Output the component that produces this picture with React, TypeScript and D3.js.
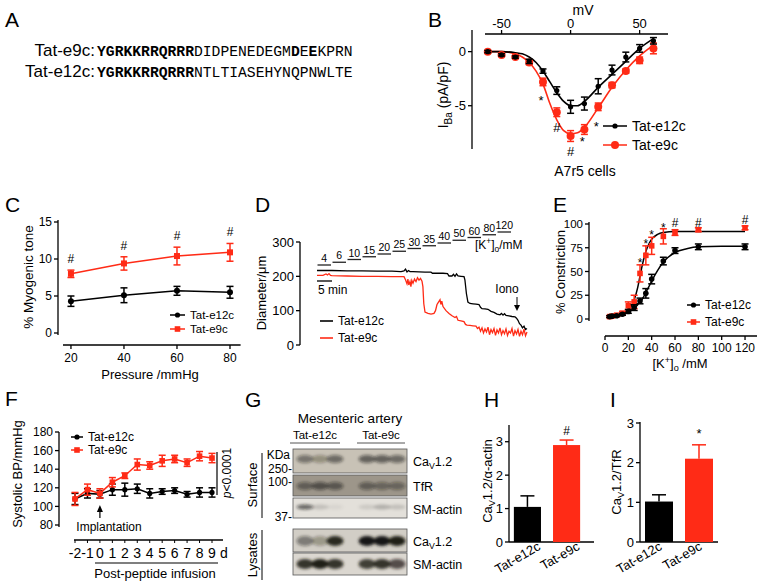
import React from 'react';
import * as d3 from 'd3';

const RED = '#ff2b16';
const BLK = '#000';
const FONT = '"Liberation Sans", Arial, Helvetica, sans-serif';

// ---------- Panel A ----------
const SEQ_NAMES = ['Tat-e9c:', 'Tat-e12c:'];
const SEQ_E9: [string, boolean][] = [['YGRKKRRQRRR', true], ['DIDPENEDEGM', false], ['D', true], ['E', false], ['E', true], ['KPRN', false]];
const SEQ_E12: [string, boolean][] = [['YGRKKRRQRRR', true], ['NTLTIASEHYNQPNWLTE', false]];

// ---------- Panel B ----------
const B_V = [-60, -50, -40, -30, -20, -10, 0, 10, 20, 30, 40, 50, 60];
const B_E12 = [0, -0.3, -0.5, -0.9, -1.8, -3.6, -5.1, -4.8, -3.2, -1.7, -0.5, 0.3, 1.0];
const B_E12_ERR = [0.1, 0.1, 0.1, 0.2, 0.2, 0.35, 0.6, 0.6, 0.7, 0.45, 0.45, 0.35, 0.3];
const B_E9 = [0, -0.3, -0.5, -1.0, -2.8, -5.6, -7.8, -7.2, -5.1, -3.1, -1.8, -0.8, 0.3];
const B_E9_ERR = [0.1, 0.1, 0.1, 0.2, 0.35, 0.4, 0.5, 0.45, 0.35, 0.25, 0.2, 0.3, 0.5];
const B_FIT_V = [-62, -50, -40, -35, -30, -25, -20, -15, -10, -5, 0, 5, 10, 20, 30, 40, 50, 60];
const B_FIT_E12 = [0, 0, -0.1, -0.2, -0.5, -1.0, -1.8, -2.8, -3.8, -4.6, -5.0, -5.0, -4.6, -3.3, -2.1, -0.9, 0.3, 1.2];
const B_FIT_E9 = [0, 0, -0.2, -0.5, -1.0, -1.8, -3.0, -4.8, -6.3, -7.3, -7.6, -7.5, -7.0, -5.2, -3.3, -1.7, -0.4, 0.6];
const B_XTICKS = [-50, 0, 50];
const B_YTICKS = [0, -5];
const B_MARKS: [number, number, string][] = [[-20, -4.0, '*'], [-10, -7.0, '#'], [0, -9.2, '#'], [10, -7.8, '*'], [20, -6.4, '*']];

// ---------- Panel C ----------
const C_P = [20, 40, 60, 80];
const C_E12 = [4.3, 5.1, 5.7, 5.5];
const C_E12_ERR = [0.7, 1.0, 0.6, 0.8];
const C_E9 = [8.0, 9.4, 10.4, 10.9];
const C_E9_ERR = [0.5, 0.9, 1.2, 1.2];
const C_XTICKS = [20, 40, 60, 80];
const C_YTICKS = [0, 5, 10, 15];

// ---------- Panel D ----------
const D_CONC = ['4', '6', '10', '15', '20', '25', '30', '35', '40', '50', '60', '80', '120'];
const D_YTICKS = [0, 100, 200, 300];
const D_E12: [number, number][] = [
  [0, 217], [5, 217], [10, 216], [15, 216], [20, 215], [25, 215], [28, 214], [29, 216], [29.5, 221], [30, 213], [30.5, 217], [31, 214],
  [32, 214], [34, 213], [36, 212], [38, 212], [38.5, 209], [40, 209], [42, 209], [43.5, 208], [44, 201], [45, 201], [45.5, 206], [46, 200],
  [46.5, 207], [47, 201], [48, 200], [49, 199], [49.3, 190], [49.8, 150], [50.3, 125], [51, 121], [52, 120], [53, 119], [54, 118],
  [54.5, 110], [55, 106], [56, 105], [57, 104], [58, 98], [59, 95], [60, 90], [61, 88], [61.5, 92], [62, 87], [62.5, 91], [63, 86],
  [64, 85], [65, 83], [66, 82], [66.5, 78], [67, 72], [67.5, 62], [68, 58], [68.5, 50], [69, 55], [69.5, 45], [70, 48]];
const D_E9: [number, number][] = [
  [0, 203], [2, 203], [3, 207], [3.5, 204], [4, 208], [4.5, 203], [5, 202], [10, 201], [15, 200], [20, 200], [25, 199], [29, 199],
  [29.5, 190], [30, 178], [30.3, 192], [30.6, 175], [31, 185], [31.3, 170], [31.6, 188], [32, 180], [32.5, 192], [33, 185], [33.5, 196],
  [34, 189], [34.5, 194], [35, 186], [35.3, 170], [35.6, 120], [36, 96], [37, 92], [38, 90], [39, 92], [39.5, 100], [40, 118], [40.5, 125],
  [41, 132], [41.3, 118], [41.6, 128], [42, 112], [43, 100], [44, 92], [45, 85], [46, 80], [46.5, 83], [47, 72], [48, 70], [49, 68],
  [49.5, 60], [50, 58], [51, 57], [52, 56], [53, 55], [53.5, 48], [54, 52], [54.5, 40], [55, 50], [55.5, 35], [56, 47], [56.5, 38],
  [57, 52], [57.5, 30], [58, 45], [58.5, 36], [59, 48], [59.5, 28], [60, 44], [60.5, 35], [61, 50], [61.5, 30], [62, 42], [62.5, 33],
  [63, 47], [63.5, 28], [64, 40], [64.5, 35], [65, 48], [65.5, 26], [66, 42], [66.5, 32], [67, 45], [67.5, 25], [68, 40], [68.5, 30],
  [69, 46], [69.5, 27], [70, 38]];

// ---------- Panel E ----------
const E_K = [4, 6, 10, 15, 20, 25, 30, 35, 40, 50, 60, 80, 120];
const E_E12 = [2.5, 3, 3.5, 5, 8, 12, 19, 27, 42, 61, 72, 76, 76];
const E_E12_ERR = [1, 1, 1, 1, 2, 3, 3, 5, 5, 4, 3, 3, 3];
const E_E9 = [2.5, 3, 4, 6, 14, 18, 48, 67, 77, 87, 91, 94, 96];
const E_E9_ERR = [1, 1, 1, 2, 4, 7, 9, 10, 9, 8, 3, 2, 2];
const E_FIT_K = [4, 10, 15, 20, 25, 28, 30, 32, 35, 38, 40, 45, 50, 60, 70, 80, 100, 120];
const E_FIT_E12 = [2, 3, 4, 7, 11, 15, 18, 21, 28, 35, 40, 51, 60, 70, 74, 76, 76.5, 76.5];
const E_FIT_E9 = [2, 3, 5, 9, 20, 33, 45, 57, 71, 80, 84, 89, 91, 92, 92, 92, 92, 92];
const E_XTICKS = [0, 20, 40, 60, 80, 100, 120];
const E_YTICKS = [0, 25, 50, 75, 100];
const E_MARKS: [number, number, string][] = [[30, 64, '*'], [35, 84, '*'], [40, 94, '*'], [50, 101, '*'], [60, 101, '#'], [80, 101, '#'], [120, 104, '#']];

// ---------- Panel F ----------
const F_DAY = [-2, -1, 0, 1, 2, 3, 4, 5, 6, 7, 8, 9];
const F_E12 = [108, 114, 113, 118, 118, 119, 114, 116, 117, 113, 115, 115];
const F_E12_ERR = [6, 5, 4, 6, 7, 5, 5, 3, 3, 3, 5, 5];
const F_E9 = [108, 118, 114, 126, 133, 145, 144, 149, 151, 147, 154, 152];
const F_E9_ERR = [7, 6, 5, 5, 3, 6, 4, 6, 4, 4, 5, 5];
const F_YTICKS = [80, 100, 120, 140, 160, 180];

// ---------- Panel G ----------
const G_ROWS = ['CaV1.2', 'TfR', 'SM-actin', 'CaV1.2', 'SM-actin'];
const G_BANDS = [
  [0.45, 0.3, 0.5, 0.55, 0.55, 0.5],
  [0.45, 0.55, 0.5, 0.45, 0.4, 0.4],
  [0.6, 0.15, 0.05, 0.1, 0.22, 0.15],
  [0.45, 0.3, 0.9, 1.0, 1.0, 0.95],
  [0.85, 0.95, 0.85, 0.8, 0.85, 0.7],
];
const G_BG = ['#c8c2b6', '#9d968a', '#e3e0da', '#d2cec6', '#dbd7d0'];

// ---------- Panels H, I ----------
const GROUPS = ['Tat-e12c', 'Tat-e9c'];
const H_VAL = [1.05, 2.9];
const H_ERR = [0.33, 0.15];
const I_VAL = [1.02, 2.1];
const I_ERR = [0.17, 0.35];
const H_YTICKS = [0, 1, 2, 3];

type Sc = d3.ScaleLinear<number, number>;

function ErrBar({ x, y0, y1, color, w = 3.5, sw = 1.5 }: any) {
  return (
    <g stroke={color} strokeWidth={sw}>
      <line x1={x} x2={x} y1={y0} y2={y1} />
      <line x1={x - w} x2={x + w} y1={y0} y2={y0} />
      <line x1={x - w} x2={x + w} y1={y1} y2={y1} />
    </g>
  );
}

function Marker({ shape, x, y, color, s }: any) {
  return shape === 'circle' ? <circle cx={x} cy={y} r={s} fill={color} /> : <rect x={x - s} y={y - s} width={2 * s} height={2 * s} fill={color} />;
}

function YAxis({ x, y, ticks, y0, y1, fs = 12, fmt = (d: number) => String(d) }: { x: number; y: Sc; ticks: number[]; y0: number; y1: number; fs?: number; fmt?: (d: number) => string }) {
  return (
    <g>
      <line x1={x} x2={x} y1={y0} y2={y1} stroke="#000" strokeWidth={1.3} />
      {ticks.map((t) => (
        <g key={t}>
          <line x1={x - 4} x2={x} y1={y(t)} y2={y(t)} stroke="#000" strokeWidth={1.3} />
          <text x={x - 6} y={y(t)} dy="0.35em" textAnchor="end" fontSize={fs}>{fmt(t)}</text>
        </g>
      ))}
    </g>
  );
}

function XAxis({ y, x, ticks, x0, x1, fs = 12, up = false, labelY }: { y: number; x: Sc; ticks: number[]; x0: number; x1: number; fs?: number; up?: boolean; labelY: number }) {
  return (
    <g>
      <line x1={x0} x2={x1} y1={y} y2={y} stroke="#000" strokeWidth={1.3} />
      {ticks.map((t) => (
        <g key={t}>
          <line x1={x(t)} x2={x(t)} y1={y} y2={up ? y - 4 : y + 4} stroke="#000" strokeWidth={1.3} />
          <text x={x(t)} y={labelY} textAnchor="middle" fontSize={fs}>{t}</text>
        </g>
      ))}
    </g>
  );
}

function Series({ X, Y, E, x, y, color, shape, s, curve = true }: any) {
  const line = d3.line<number>().x((_, i) => x(X[i])).y((d) => y(d));
  return (
    <g>
      {curve && <path d={line(Y) || ''} fill="none" stroke={color} strokeWidth={1.5} />}
      {Y.map((v: number, i: number) => (
        <ErrBar key={'e' + i} x={x(X[i])} y0={y(v - E[i])} y1={y(v + E[i])} color={color} />
      ))}
      {Y.map((v: number, i: number) => (
        <Marker key={'m' + i} shape={shape} x={x(X[i])} y={y(v)} color={color} s={s} />
      ))}
    </g>
  );
}

function LegendItem({ x, y, color, shape, s, label, len = 16, fs = 12 }: any) {
  return (
    <g>
      <line x1={x} x2={x + len} y1={y} y2={y} stroke={color} strokeWidth={1.5} />
      <Marker shape={shape} x={x + len / 2} y={y} color={color} s={s} />
      <text x={x + len + 5} y={y} dy="0.35em" fontSize={fs}>{label}</text>
    </g>
  );
}

function KLabel({ x, y, fs = 13, anchor = 'start', space = '' }: any) {
  return (
    <text x={x} y={y} fontSize={fs} textAnchor={anchor}>
      <tspan>[K</tspan>
      <tspan dy={-5} fontSize={fs * 0.7}>+</tspan>
      <tspan dy={5}>]</tspan>
      <tspan dy={3} fontSize={fs * 0.7}>o</tspan>
      <tspan dy={-3}>{space}/mM</tspan>
    </text>
  );
}

function CaV({ x, y, rest, fs = 13, rotate = false, anchor = 'middle' }: any) {
  return (
    <text x={x} y={y} fontSize={fs} textAnchor={anchor} transform={rotate ? `rotate(-90 ${x} ${y})` : undefined}>
      <tspan>Ca</tspan>
      <tspan dy={3} fontSize={fs * 0.7}>V</tspan>
      <tspan dy={-3}>{rest}</tspan>
    </text>
  );
}

function Mark({ x, y, m, fs = 12 }: any) {
  return (
    <text x={x} y={y} dy={m === '*' ? '0.75em' : '0.35em'} textAnchor="middle" fontSize={fs}>{m}</text>
  );
}

export default function App() {
  // Panel B scales
  const xB = d3.scaleLinear().domain([-62, 72]).range([485, 670]);
  const yB = d3.scaleLinear().domain([-9, 2]).range([149, 30]);
  const lineB = d3.line<number>().x((_, i) => xB(B_FIT_V[i])).y((d) => yB(d)).curve(d3.curveMonotoneX);

  // Panel C
  const xC = d3.scaleLinear().domain([17, 84]).range([63, 240.6]);
  const yC = d3.scaleLinear().domain([0, 15]).range([333, 222]);

  // Panel D
  const xD = d3.scaleLinear().domain([0, 70]).range([317, 527]);
  const yD = d3.scaleLinear().domain([0, 300]).range([345, 242]);
  const lineD = d3.line<[number, number]>().x((d) => xD(d[0])).y((d) => yD(d[1]));

  // Panel E
  const xE = d3.scaleLinear().domain([0, 130]).range([605, 756.7]);
  const yE = d3.scaleLinear().domain([0, 100]).range([319, 224]);
  const lineE = d3.line<number>().x((_, i) => xE(E_FIT_K[i])).y((d) => yE(d)).curve(d3.curveMonotoneX);

  // Panel F
  const xF = d3.scaleLinear().domain([-2, 9]).range([75, 212]);
  const yF = d3.scaleLinear().domain([80, 180]).range([525, 432]);

  // Panel G
  const laneX = [305, 320, 335, 367, 382, 397];
  const strips = [[449, 473], [475, 496], [498, 518], [529, 552], [553, 575]];
  const bandY = [459, 486, 507, 541, 564];
  const bandRy = [4, 4, 2.5, 5, 5];
  const labelY = [462, 487, 510, 542, 565];

  // Panels H, I
  const xH = d3.scaleBand<string>().domain(GROUPS).range([508, 586]).paddingInner(0.3077).paddingOuter(0.15);
  const yH = d3.scaleLinear().domain([0, 3.5]).range([542, 425]);
  const xI = d3.scaleBand<string>().domain(GROUPS).range([640, 718]).paddingInner(0.3).paddingOuter(0.125);
  const yI = d3.scaleLinear().domain([0, 3]).range([542, 423]);

  const letter = (t: string, x: number, y: number) => (
    <text x={x} y={y} fontSize={21}>{t}</text>
  );

  return (
    <svg width={760} height={587} style={{ position: 'absolute', left: 0, top: 0, background: '#fff' }} fontFamily={FONT}>
      <defs>
        <filter id="blur" x="-50%" y="-50%" width="200%" height="200%">
          <feGaussianBlur stdDeviation="1.8" />
        </filter>
      </defs>
      <rect width={760} height={587} fill="#fff" />

      {/* ===== A ===== */}
      {letter('A', 5, 27)}
      {[SEQ_E9, SEQ_E12].map((seq, r) => (
        <g key={r}>
          <text x={95} y={56 + r * 21} textAnchor="end" fontSize={17}>{SEQ_NAMES[r]}</text>
          <text x={97} y={56 + r * 21} fontSize={14.7} fontFamily='"Liberation Mono", "Courier New", monospace'>
            {seq.map(([s, b], i) => (
              <tspan key={i} fontWeight={b ? 'bold' : 'normal'}>{s}</tspan>
            ))}
          </text>
        </g>
      ))}

      {/* ===== B ===== */}
      {letter('B', 428, 27)}
      <text x={583} y={15} textAnchor="middle" fontSize={14}>mV</text>
      <XAxis y={34} x={xB} ticks={B_XTICKS} x0={485} x1={668} fs={13} up labelY={28} />
      <YAxis x={472} y={yB} ticks={B_YTICKS} y0={30} y1={149} fs={13} />
      <text transform="translate(448,95) rotate(-90)" textAnchor="middle" fontSize={14}>
        <tspan>I</tspan>
        <tspan dy={4} fontSize={10}>Ba</tspan>
        <tspan dy={-4}> (pA/pF)</tspan>
      </text>
      <path d={lineB(B_FIT_E9) || ''} fill="none" stroke={RED} strokeWidth={1.6} />
      <path d={lineB(B_FIT_E12) || ''} fill="none" stroke={BLK} strokeWidth={1.6} />
      <Series X={B_V} Y={B_E9} E={B_E9_ERR} x={xB} y={yB} color={RED} shape="circle" s={4} curve={false} />
      <Series X={B_V} Y={B_E12} E={B_E12_ERR} x={xB} y={yB} color={BLK} shape="circle" s={2.6} curve={false} />
      {B_MARKS.map(([v, val, m], i) => (
        <Mark key={i} x={xB(v) + (m === '*' ? -2 : 0)} y={yB(val)} m={m} fs={13} />
      ))}
      <LegendItem x={603} y={126} color={BLK} shape="circle" s={2.6} label="Tat-e12c" len={24} fs={14} />
      <LegendItem x={603} y={145} color={RED} shape="circle" s={4} label="Tat-e9c" len={24} fs={14} />
      <text x={585} y={176} textAnchor="middle" fontSize={14}>A7r5 cells</text>

      {/* ===== C ===== */}
      {letter('C', 5, 212)}
      <YAxis x={58} y={yC} ticks={C_YTICKS} y0={220} y1={335} fs={12} />
      <XAxis y={345} x={xC} ticks={C_XTICKS} x0={63} x1={240.6} fs={12} labelY={362} />
      <text x={150} y={379} textAnchor="middle" fontSize={13}>Pressure /mmHg</text>
      <text transform="translate(33,277) rotate(-90)" textAnchor="middle" fontSize={13.5}>% Myogenic tone</text>
      <Series X={C_P} Y={C_E12} E={C_E12_ERR} x={xC} y={yC} color={BLK} shape="circle" s={3} />
      <Series X={C_P} Y={C_E9} E={C_E9_ERR} x={xC} y={yC} color={RED} shape="square" s={3} />
      {C_P.map((p, i) => (
        <text key={p} x={xC(p)} y={yC(C_E9[i] + C_E9_ERR[i]) - 7} textAnchor="middle" fontSize={12}>#</text>
      ))}
      <LegendItem x={170} y={315} color={BLK} shape="circle" s={2.6} label="Tat-e12c" len={15} fs={11.5} />
      <LegendItem x={170} y={329} color={RED} shape="square" s={2.8} label="Tat-e9c" len={15} fs={11.5} />

      {/* ===== D ===== */}
      {letter('D', 255, 212)}
      <YAxis x={300} y={yD} ticks={D_YTICKS} y0={242} y1={345} fs={13} />
      <text transform="translate(266,293) rotate(-90)" textAnchor="middle" fontSize={13}>Diameter/μm</text>
      {D_CONC.map((c, i) => {
        const yy = 265 - i * 2.75;
        const x0 = xD(i * 5) + 0.5;
        const x1 = xD(i * 5 + 5) - 1;
        return (
          <g key={c}>
            <line x1={x0} x2={x1} y1={yy} y2={yy} stroke="#222" strokeWidth={1.3} />
            <text x={(x0 + x1) / 2} y={yy - 3} textAnchor="middle" fontSize={10.5}>{c}</text>
          </g>
        );
      })}
      <KLabel x={475} y={249} fs={12} />
      <line x1={xD(0)} x2={xD(5)} y1={281} y2={281} stroke="#222" strokeWidth={1.5} />
      <text x={318} y={294} fontSize={12}>5 min</text>
      <path d={lineD(D_E12) || ''} fill="none" stroke={BLK} strokeWidth={1.3} />
      <path d={lineD(D_E9) || ''} fill="none" stroke={RED} strokeWidth={1.3} />
      <text x={507} y={293} textAnchor="middle" fontSize={12}>Iono</text>
      <line x1={517} x2={517} y1={297} y2={309} stroke="#000" strokeWidth={1} />
      <path d="M514,305 L517,311 L520,305 Z" fill="#000" />
      <line x1={320} x2={333} y1={321} y2={321} stroke={BLK} strokeWidth={1.6} />
      <text x={338} y={321} dy="0.35em" fontSize={12}>Tat-e12c</text>
      <line x1={320} x2={333} y1={338} y2={338} stroke={RED} strokeWidth={1.6} />
      <text x={338} y={338} dy="0.35em" fontSize={12}>Tat-e9c</text>

      {/* ===== E ===== */}
      {letter('E', 553, 212)}
      <YAxis x={589} y={yE} ticks={E_YTICKS} y0={222} y1={321} fs={11.5} />
      <XAxis y={336} x={xE} ticks={E_XTICKS} x0={605} x1={757} fs={12} labelY={352} />
      <KLabel x={680} y={368} fs={13} anchor="middle" space=" " />
      <text transform="translate(565,272) rotate(-90)" textAnchor="middle" fontSize={13}>% Constriction</text>
      <path d={lineE(E_FIT_E9) || ''} fill="none" stroke={BLK} strokeWidth={1.5} />
      <path d={lineE(E_FIT_E12) || ''} fill="none" stroke={BLK} strokeWidth={1.5} />
      <Series X={E_K} Y={E_E9} E={E_E9_ERR} x={xE} y={yE} color={RED} shape="square" s={2.8} curve={false} />
      <Series X={E_K} Y={E_E12} E={E_E12_ERR} x={xE} y={yE} color={BLK} shape="circle" s={2.8} curve={false} />
      {E_MARKS.map(([k, v, m], i) => (
        <Mark key={i} x={xE(k)} y={yE(v)} m={m} fs={12} />
      ))}
      <LegendItem x={687} y={305} color={BLK} shape="circle" s={2.6} label="Tat-e12c" len={13} />
      <LegendItem x={687} y={322} color={RED} shape="square" s={2.8} label="Tat-e9c" len={13} />

      {/* ===== F ===== */}
      {letter('F', 5, 406)}
      <YAxis x={59} y={yF} ticks={F_YTICKS} y0={432} y1={527} fs={12} />
      <text transform="translate(22,474) rotate(-90)" textAnchor="middle" fontSize={13}>Systolic BP/mmHg</text>
      <line x1={74} x2={223} y1={540} y2={540} stroke="#000" strokeWidth={1.3} />
      {F_DAY.map((d) => (
        <g key={d}>
          <line x1={xF(d)} x2={xF(d)} y1={540} y2={543} stroke="#000" strokeWidth={1} />
          <text x={xF(d)} y={558} textAnchor="middle" fontSize={14}>{d}</text>
        </g>
      ))}
      <text x={224} y={558} textAnchor="middle" fontSize={14}>d</text>
      <line x1={95} x2={218} y1={563} y2={563} stroke="#000" strokeWidth={1.2} />
      <text x={155} y={578} textAnchor="middle" fontSize={13}>Post-peptide infusion</text>
      <Series X={F_DAY} Y={F_E12} E={F_E12_ERR} x={xF} y={yF} color={BLK} shape="circle" s={2.6} />
      <Series X={F_DAY} Y={F_E9} E={F_E9_ERR} x={xF} y={yF} color={RED} shape="square" s={2.8} />
      <line x1={xF(0)} x2={xF(0)} y1={508} y2={518} stroke="#000" strokeWidth={1.2} />
      <path d={`M${xF(0) - 3},512 L${xF(0)},505 L${xF(0) + 3},512 Z`} fill="#000" />
      <text x={109} y={531} textAnchor="middle" fontSize={12}>Implantation</text>
      <line x1={217} x2={217} y1={452} y2={495} stroke="#000" strokeWidth={1.2} />
      <text transform="translate(231,473) rotate(-90)" textAnchor="middle" fontSize={12}>
        <tspan fontStyle="italic">p</tspan>
        <tspan>&lt;0.0001</tspan>
      </text>
      <LegendItem x={71} y={437} color={BLK} shape="circle" s={2.6} label="Tat-e12c" len={12} />
      <LegendItem x={71} y={450} color={RED} shape="square" s={2.8} label="Tat-e9c" len={12} />

      {/* ===== G ===== */}
      {letter('G', 245, 407)}
      <text x={350} y={423} textAnchor="middle" fontSize={13.5}>Mesenteric artery</text>
      <text x={315} y={439} textAnchor="middle" fontSize={11.5}>Tat-e12c</text>
      <line x1={290} x2={340} y1={443} y2={443} stroke="#555" strokeWidth={1} />
      <text x={381} y={439} textAnchor="middle" fontSize={11.5}>Tat-e9c</text>
      <line x1={357} x2={405} y1={443} y2={443} stroke="#555" strokeWidth={1} />
      {strips.map(([y0, y1], r) => (
        <g key={r}>
          <rect x={293} y={y0} width={114} height={y1 - y0} fill={G_BG[r]} stroke="#555" strokeWidth={0.8} />
          <g filter="url(#blur)">
            {G_BANDS[r].map((v, l) => (
              <ellipse key={l} cx={laneX[l]} cy={bandY[r]} rx={8.5} ry={bandRy[r]} fill={`rgba(25,22,18,${v})`} />
            ))}
          </g>
        </g>
      ))}
      {G_ROWS.map((name, r) =>
        name === 'CaV1.2' ? (
          <CaV key={r} x={413} y={labelY[r] + 4} rest="1.2" fs={12.5} anchor="start" />
        ) : (
          <text key={r} x={413} y={labelY[r] + 4} fontSize={12.5}>{name}</text>
        )
      )}
      <text x={290} y={459} textAnchor="end" fontSize={12}>KDa</text>
      <text x={292} y={473} textAnchor="end" fontSize={12}>250-</text>
      <text x={292} y={486} textAnchor="end" fontSize={12}>100-</text>
      <text x={292} y={521} textAnchor="end" fontSize={12}>37-</text>
      <line x1={262} x2={262} y1={453} y2={518} stroke="#000" strokeWidth={1} />
      <text transform="translate(257,485) rotate(-90)" textAnchor="middle" fontSize={13}>Surface</text>
      <line x1={262} x2={262} y1={530} y2={580} stroke="#000" strokeWidth={1} />
      <text transform="translate(257,555) rotate(-90)" textAnchor="middle" fontSize={13}>Lysates</text>

      {/* ===== H ===== */}
      {letter('H', 484, 407)}
      <YAxis x={509} y={yH} ticks={H_YTICKS} y0={425} y1={542} fs={13} />
      <line x1={509} x2={594} y1={542} y2={542} stroke="#000" strokeWidth={1.3} />
      {GROUPS.map((g, i) => {
        const x0 = xH(g)!;
        const c = x0 + xH.bandwidth() / 2;
        const col = i === 0 ? BLK : RED;
        return (
          <g key={g}>
            <line x1={c} x2={c} y1={yH(H_VAL[i])} y2={yH(H_VAL[i] + H_ERR[i])} stroke={col} strokeWidth={1.5} />
            <line x1={c - 7} x2={c + 7} y1={yH(H_VAL[i] + H_ERR[i])} y2={yH(H_VAL[i] + H_ERR[i])} stroke={col} strokeWidth={1.5} />
            <rect x={x0} y={yH(H_VAL[i])} width={xH.bandwidth()} height={yH(0) - yH(H_VAL[i])} fill={col} />
            <text transform={`translate(${c + 14},549) rotate(-30)`} textAnchor="end" fontSize={13}>{g}</text>
          </g>
        );
      })}
      <text x={xH('Tat-e9c')! + xH.bandwidth() / 2} y={435} textAnchor="middle" fontSize={12}>#</text>
      <CaV x={492} y={481} rest="1.2/α-actin" fs={13} rotate />

      {/* ===== I ===== */}
      {letter('I', 610, 407)}
      <YAxis x={640} y={yI} ticks={H_YTICKS} y0={422} y1={542} fs={13} />
      <line x1={640} x2={718} y1={542} y2={542} stroke="#000" strokeWidth={1.3} />
      {GROUPS.map((g, i) => {
        const x0 = xI(g)!;
        const c = x0 + xI.bandwidth() / 2;
        const col = i === 0 ? BLK : RED;
        return (
          <g key={g}>
            <line x1={c} x2={c} y1={yI(I_VAL[i])} y2={yI(I_VAL[i] + I_ERR[i])} stroke={col} strokeWidth={1.5} />
            <line x1={c - 7} x2={c + 7} y1={yI(I_VAL[i] + I_ERR[i])} y2={yI(I_VAL[i] + I_ERR[i])} stroke={col} strokeWidth={1.5} />
            <rect x={x0} y={yI(I_VAL[i])} width={xI.bandwidth()} height={yI(0) - yI(I_VAL[i])} fill={col} />
            <text transform={`translate(${c + 4},549) rotate(-30)`} textAnchor="end" fontSize={13}>{g}</text>
          </g>
        );
      })}
      <Mark x={xI('Tat-e9c')! + xI.bandwidth() / 2} y={428} m="*" fs={13} />
      <CaV x={621} y={482} rest="1.2/TfR" fs={13} rotate />
    </svg>
  );
}
